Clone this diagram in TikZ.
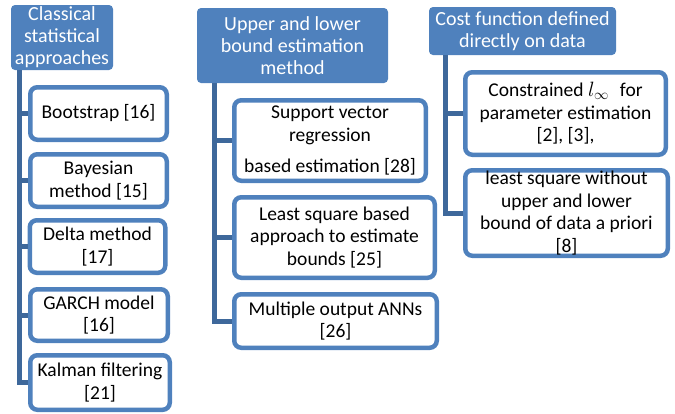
\documentclass[tikz,border=0pt]{standalone}
\usepackage{fontspec}
\setmainfont{Carlito}
\usepackage{amsmath}
\definecolor{hdrblue}{RGB}{79,129,189}
\definecolor{trunkblue}{RGB}{62,104,155}
\tikzset{
  hdr/.style={fill=hdrblue, draw=none, rounded corners=4pt, text=white, align=center,
    inner sep=0pt, font=\fontsize{20}{22}\selectfont},
  leaf/.style={draw=hdrblue, line width=4.5pt, fill=white, rounded corners=7pt, align=center,
    inner sep=0pt, font=\fontsize{19.5}{22.5}\selectfont},
  trunk/.style={draw=trunkblue, line width=5pt},
}
\begin{document}
\begin{tikzpicture}[x=1pt,y=-1pt]
\useasboundingbox (0,0) rectangle (675,413);
% headers (outer px)
\node[hdr, minimum width=102pt, minimum height=65pt] (h1) at (62,37.5) {Classical\\statistical\\approaches};
\node[hdr, minimum width=191pt, minimum height=75pt] (h2) at (292.5,45.5) {Upper and lower\\bound estimation\\method};
\node[hdr, minimum width=187pt, minimum height=48pt] (h3) at (522.5,31) {Cost function defined\\directly on data};
% column 1 leaves (size = outer - line width)
\node[leaf, minimum width=136.5pt, minimum height=52.5pt] (b1) at (98.5,113.5) {Bootstrap [16]};
\node[leaf, minimum width=136.5pt, minimum height=52.5pt] (b2) at (98.5,180.5) {Bayesian\\method [15]};
\node[leaf, minimum width=135.5pt, minimum height=52.5pt] (b3) at (97.5,246.5) {Delta method\\{}[17]};
\node[leaf, minimum width=137.5pt, minimum height=51.5pt] (b4) at (99,315) {GARCH model\\{}[16]};
\node[leaf, minimum width=139.5pt, minimum height=54.5pt] (b5) at (100,382.5) {Kalman filtering\\{}[21]};
% column 2 leaves
\node[leaf, minimum width=191.5pt, minimum height=80.5pt] (c1) at (330,140.5) {Support vector\\regression\\[8.5pt]based estimation [28]};
\node[leaf, minimum width=200.5pt, minimum height=80.5pt] (c2) at (334.5,237.5) {Least square based\\approach to estimate\\bounds [25]};
\node[leaf, minimum width=202.5pt, minimum height=53.5pt] (c3) at (335.5,321) {Multiple output ANNs\\{}[26]};
% column 3 leaves
\node[leaf, minimum width=200.5pt, minimum height=82.5pt] (d1) at (565.5,113.5) {Constrained {\fontsize{22}{22}\selectfont$l_{\infty}$}\,\, for\\parameter estimation\\{}[2], [3],};
\node[leaf, minimum width=202.5pt, minimum height=85.5pt] (d2) at (566.5,213) {least square without\\upper and lower\\bound of data a priori\\{}[8]};
% trunk coordinates
\coordinate (t1) at (19.5,0);
\coordinate (t2) at (214,0);
\coordinate (t3) at (445.5,0);
% connectors column 1
\draw[trunk] (h1.south -| t1) |- (b5.west);
\foreach \b in {b1,b2,b3,b4} \draw[trunk] (\b.west -| t1) -- (\b.west);
% column 2
\draw[trunk] (h2.south -| t2) |- (c3.west);
\foreach \b in {c1,c2} \draw[trunk] (\b.west -| t2) -- (\b.west);
% column 3
\draw[trunk] (h3.south -| t3) |- (d2.west);
\draw[trunk] (d1.west -| t3) -- (d1.west);
\end{tikzpicture}
\end{document}
